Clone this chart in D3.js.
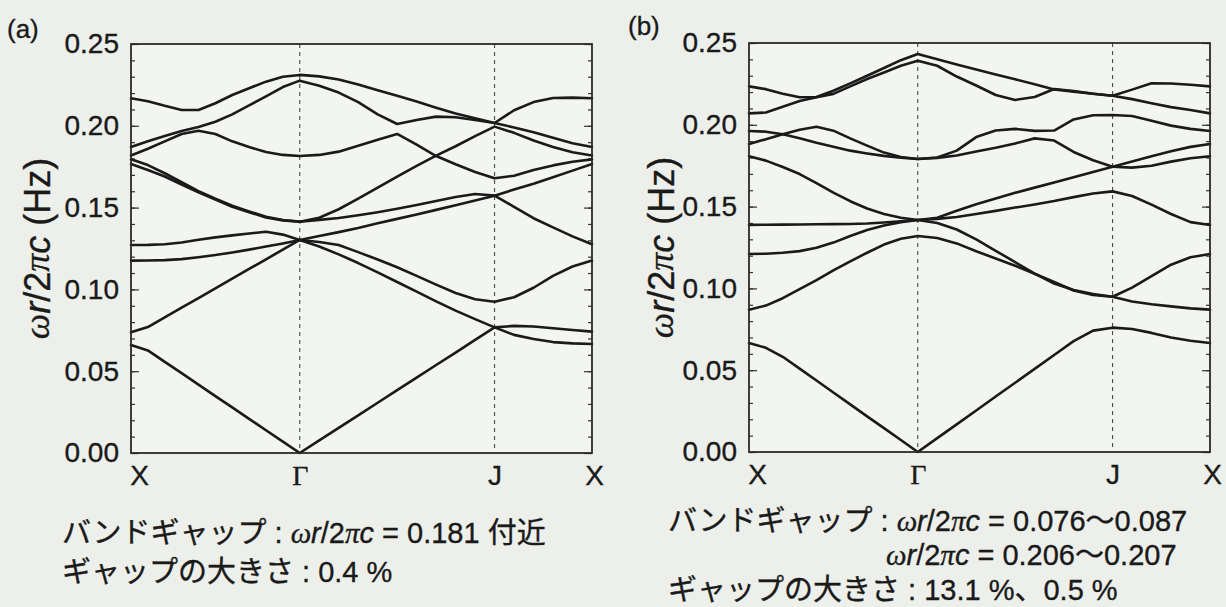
<!DOCTYPE html>
<html>
<head>
<meta charset="utf-8">
<script src="https://cdn.jsdelivr.net/npm/d3@7"></script>
<style>
  html, body { margin: 0; padding: 0; background: #edf0ea; }
  svg { display: block; }
  text { font-family: "Liberation Sans", "Noto Sans CJK JP", sans-serif; fill: #1a1a1a; stroke: #1a1a1a; stroke-width: 0.35; }
</style>
</head>
<body>
<svg id="chart" width="1226" height="607"></svg>
<script>
// Symmetry points along the hexagonal-lattice path X–Γ–J–X (reduced wave-vector units)
const kPoints = [0, 0.5774, 1.2440, 1.5774];
const kLabels = ["X", "Γ", "J", "X"];

// Wave-vector samples along the path (10 steps X→Γ, 10 steps Γ→J, 5 steps J→X)
const kGrid = [
  0.0000, 0.0577, 0.1155, 0.1732, 0.2309, 0.2887, 0.3464, 0.4041, 0.4619, 0.5196,
  0.5774, 0.6441, 0.7107, 0.7774, 0.8441, 0.9107, 0.9774, 1.0441, 1.1107, 1.1774,
  1.2440, 1.3107, 1.3774, 1.4440, 1.5107, 1.5774
];

// Frequency axis ticks
const yTicks = [0, 0.05, 0.10, 0.15, 0.20, 0.25];
const yTickLabels = ["0.00", "0.05", "0.10", "0.15", "0.20", "0.25"];

// Normalized frequency ωr/2πc of each band on kGrid, structure (a)
const bandsA = [
  [0.0660,0.0627,0.0557,0.0488,0.0418,0.0348,0.0279,0.0209,0.0139,0.0070,0.0000, 0.0077,0.0154,0.0230,0.0307,0.0384,0.0461,0.0538,0.0614,0.0691,0.0768, 0.0777,0.0773,0.0763,0.0752,0.0742],
  [0.0738,0.0770,0.0829,0.0888,0.0947,0.1006,0.1066,0.1125,0.1184,0.1243,0.1302, 0.1262,0.1214,0.1161,0.1104,0.1045,0.0986,0.0927,0.0870,0.0818,0.0768, 0.0722,0.0697,0.0678,0.0670,0.0666],
  [0.1176,0.1177,0.1179,0.1185,0.1197,0.1210,0.1226,0.1243,0.1262,0.1281,0.1302, 0.1290,0.1271,0.1228,0.1183,0.1135,0.1083,0.1029,0.0978,0.0940,0.0925, 0.0952,0.1010,0.1083,0.1140,0.1176],
  [0.1271,0.1272,0.1276,0.1287,0.1303,0.1318,0.1330,0.1342,0.1352,0.1335,0.1302, 0.1326,0.1350,0.1375,0.1404,0.1431,0.1458,0.1486,0.1515,0.1544,0.1573, 0.1610,0.1646,0.1686,0.1726,0.1766],
  [0.1766,0.1730,0.1690,0.1641,0.1593,0.1549,0.1505,0.1472,0.1440,0.1422,0.1414, 0.1425,0.1436,0.1453,0.1472,0.1493,0.1516,0.1540,0.1565,0.1583,0.1573, 0.1505,0.1435,0.1379,0.1324,0.1276],
  [0.1795,0.1760,0.1710,0.1655,0.1601,0.1555,0.1512,0.1477,0.1444,0.1424,0.1414, 0.1438,0.1490,0.1555,0.1622,0.1690,0.1755,0.1818,0.1875,0.1937,0.1995, 0.1957,0.1910,0.1870,0.1838,0.1818],
  [0.1818,0.1860,0.1905,0.1950,0.1970,0.1950,0.1905,0.1870,0.1840,0.1822,0.1815, 0.1822,0.1842,0.1878,0.1915,0.1950,0.1885,0.1815,0.1765,0.1718,0.1679, 0.1695,0.1730,0.1758,0.1780,0.1795],
  [0.1870,0.1905,0.1937,0.1968,0.1993,0.2025,0.2070,0.2125,0.2180,0.2237,0.2276, 0.2245,0.2203,0.2145,0.2070,0.2011,0.2035,0.2056,0.2052,0.2035,0.2017, 0.2095,0.2145,0.2170,0.2172,0.2168],
  [0.2168,0.2150,0.2122,0.2097,0.2097,0.2138,0.2188,0.2230,0.2270,0.2300,0.2311, 0.2302,0.2283,0.2252,0.2218,0.2183,0.2148,0.2111,0.2075,0.2046,0.2017, 0.1990,0.1961,0.1927,0.1893,0.1870]
];

// Normalized frequency ωr/2πc of each band on kGrid, structure (b)
const bandsB = [
  [0.0666,0.0637,0.0582,0.0510,0.0437,0.0364,0.0291,0.0218,0.0146,0.0073,0.0000, 0.0085,0.0169,0.0254,0.0339,0.0423,0.0508,0.0593,0.0678,0.0742,0.0760, 0.0752,0.0728,0.0700,0.0680,0.0666],
  [0.0870,0.0895,0.0940,0.0995,0.1050,0.1110,0.1165,0.1218,0.1268,0.1303,0.1320, 0.1308,0.1275,0.1227,0.1183,0.1138,0.1090,0.1040,0.0987,0.0960,0.0949, 0.0920,0.0903,0.0890,0.0878,0.0870],
  [0.1210,0.1212,0.1218,0.1228,0.1248,0.1280,0.1320,0.1357,0.1385,0.1405,0.1418, 0.1400,0.1360,0.1300,0.1230,0.1160,0.1090,0.1030,0.0990,0.0965,0.0949, 0.1005,0.1075,0.1145,0.1190,0.1210],
  [0.1388,0.1389,0.1390,0.1391,0.1392,0.1393,0.1394,0.1397,0.1403,0.1410,0.1418, 0.1425,0.1436,0.1455,0.1474,0.1494,0.1513,0.1534,0.1558,0.1580,0.1593, 0.1565,0.1512,0.1455,0.1405,0.1388],
  [0.1808,0.1781,0.1742,0.1699,0.1644,0.1585,0.1533,0.1488,0.1455,0.1432,0.1418, 0.1432,0.1475,0.1515,0.1550,0.1584,0.1616,0.1648,0.1680,0.1712,0.1744, 0.1775,0.1808,0.1838,0.1865,0.1883],
  [0.1962,0.1958,0.1942,0.1918,0.1890,0.1866,0.1842,0.1825,0.1810,0.1799,0.1791, 0.1798,0.1812,0.1837,0.1860,0.1886,0.1917,0.1904,0.1834,0.1783,0.1744, 0.1738,0.1750,0.1775,0.1796,0.1808],
  [0.1883,0.1912,0.1942,0.1970,0.1988,0.1964,0.1917,0.1873,0.1830,0.1803,0.1791, 0.1800,0.1842,0.1925,0.1965,0.1975,0.1963,0.1965,0.2033,0.2058,0.2060, 0.2054,0.2025,0.1995,0.1975,0.1962],
  [0.2070,0.2075,0.2110,0.2145,0.2168,0.2189,0.2235,0.2280,0.2320,0.2361,0.2392, 0.2361,0.2295,0.2240,0.2182,0.2152,0.2170,0.2219,0.2207,0.2190,0.2178, 0.2157,0.2132,0.2108,0.2090,0.2070],
  [0.2235,0.2218,0.2190,0.2168,0.2170,0.2208,0.2253,0.2300,0.2347,0.2395,0.2433, 0.2400,0.2368,0.2338,0.2308,0.2278,0.2248,0.2216,0.2203,0.2190,0.2178, 0.2215,0.2254,0.2252,0.2245,0.2235]
];

// Band-gap notes under each panel
const notesA = [
  { x: 62, y: 543, parts: [["バンドギャップ : ", "n"], ["ω", "gi"], ["r", "i"], ["/2", "n"], ["π", "gi"], ["c", "i"], [" = 0.181 付近", "n"]] },
  { x: 62, y: 582, parts: [["ギャップの大きさ : 0.4 %", "n"]] }
];
const notesB = [
  { x: 668, y: 531, parts: [["バンドギャップ : ", "n"], ["ω", "gi"], ["r", "i"], ["/2", "n"], ["π", "gi"], ["c", "i"], [" = 0.076～0.087", "n"]] },
  { x: 886, y: 565, parts: [["ω", "gi"], ["r", "i"], ["/2", "n"], ["π", "gi"], ["c", "i"], [" = 0.206～0.207", "n"]] },
  { x: 668, y: 600, parts: [["ギャップの大きさ : 13.1 %、0.5 %", "n"]] }
];

const panels = [
  { tag: "(a)", bands: bandsA, notes: notesA, left: 131, right: 592, top: 44, bottom: 453, tagX: 7, tagY: 38, titleX: 37 },
  { tag: "(b)", bands: bandsB, notes: notesB, left: 749, right: 1210, top: 43, bottom: 452, tagX: 628, tagY: 35, titleX: 661 }
];

const svg = d3.select("#chart");
svg.append("rect").attr("width", 1226).attr("height", 607).attr("fill", "#edf0ea");

function addRuns(textSel, parts) {
  parts.forEach(([str, kind]) => {
    const t = textSel.append("tspan").text(str);
    if (kind === "i") t.attr("font-style", "italic");
    if (kind === "gi") t.attr("font-style", "italic").style("font-family", "'Liberation Serif', serif");
  });
}

panels.forEach(p => {
  const x = d3.scaleLinear().domain([kPoints[0], kPoints[3]]).range([p.left, p.right]);
  const y = d3.scaleLinear().domain([0, 0.25]).range([p.bottom, p.top]);
  const g = svg.append("g");

  // plot area
  g.append("rect")
    .attr("x", p.left).attr("y", p.top)
    .attr("width", p.right - p.left).attr("height", p.bottom - p.top)
    .attr("fill", "#f3f5f0");

  // dashed guides at interior symmetry points
  g.selectAll("line.sym").data(kPoints.slice(1, 3)).join("line")
    .attr("class", "sym")
    .attr("x1", d => x(d)).attr("x2", d => x(d))
    .attr("y1", p.top).attr("y2", p.bottom)
    .attr("stroke", "#4a4a4a").attr("stroke-width", 1.1)
    .attr("stroke-dasharray", "4,4");

  // inner tick marks on both vertical sides
  const minorVals = d3.range(0, 26).map(i => i / 100);
  const tickAxes = [
    [d3.axisLeft(y).tickValues(minorVals).tickSize(-4), p.left],
    [d3.axisLeft(y).tickValues(yTicks).tickSize(-8), p.left],
    [d3.axisRight(y).tickValues(minorVals).tickSize(-4), p.right],
    [d3.axisRight(y).tickValues(yTicks).tickSize(-8), p.right]
  ];
  tickAxes.forEach(([ax, xpos]) => {
    const a = g.append("g").attr("transform", `translate(${xpos},0)`)
      .call(ax.tickFormat(""));
    a.select(".domain").remove();
    a.selectAll(".tick line").attr("stroke", "#333").attr("stroke-width", 1.2);
  });

  // bands
  const line = d3.line()
    .x((d, i) => x(kGrid[i]))
    .y(d => y(d))
    .curve(d3.curveLinear);
  g.selectAll("path.band").data(p.bands).join("path")
    .attr("class", "band")
    .attr("d", line)
    .attr("fill", "none")
    .attr("stroke", "#1a1a1a")
    .attr("stroke-width", 2.6)
    .attr("stroke-linejoin", "round")
    .attr("stroke-linecap", "round");

  // frame
  g.append("rect")
    .attr("x", p.left).attr("y", p.top)
    .attr("width", p.right - p.left).attr("height", p.bottom - p.top)
    .attr("fill", "none").attr("stroke", "#2a2a2a").attr("stroke-width", 1.8);

  // y tick labels
  const yAxis = g.append("g").attr("transform", `translate(${p.left},0)`)
    .call(d3.axisLeft(y).tickValues(yTicks).tickFormat((d, i) => yTickLabels[i]).tickSize(0).tickPadding(12));
  yAxis.select(".domain").remove();
  yAxis.attr("font-size", null).attr("font-family", null);
  yAxis.selectAll("text").attr("font-size", 28).attr("fill", "#1a1a1a");

  // x symmetry-point labels
  const xAxis = g.append("g").attr("transform", `translate(0,${p.bottom})`)
    .call(d3.axisBottom(x).tickValues(kPoints).tickFormat((d, i) => kLabels[i]).tickSize(0).tickPadding(12));
  xAxis.select(".domain").remove();
  xAxis.attr("font-size", null).attr("font-family", null);
  xAxis.selectAll("text")
    .attr("font-size", 28).attr("fill", "#1a1a1a")
    .attr("dx", (d, i) => (i === 0 ? 8 : i === 3 ? 2 : 0))
    .style("font-family", (d, i) => (i === 1 ? "'Liberation Serif', serif" : null));

  // panel tag
  g.append("text").attr("x", p.tagX).attr("y", p.tagY)
    .attr("font-size", 26).text(p.tag);

  // y-axis title
  const title = g.append("text")
    .attr("transform", `translate(${p.titleX},${(p.top + p.bottom) / 2}) rotate(-90)`)
    .attr("text-anchor", "middle")
    .attr("dominant-baseline", "central")
    .attr("font-size", 36);
  addRuns(title, [["ω", "gi"], ["r", "i"], ["/2", "n"], ["π", "gi"], ["c", "i"], [" (Hz)", "n"]]);

  // notes
  p.notes.forEach(n => {
    const t = g.append("text").attr("x", n.x).attr("y", n.y).attr("font-size", 29);
    addRuns(t, n.parts);
  });
});
</script>
</body>
</html>
